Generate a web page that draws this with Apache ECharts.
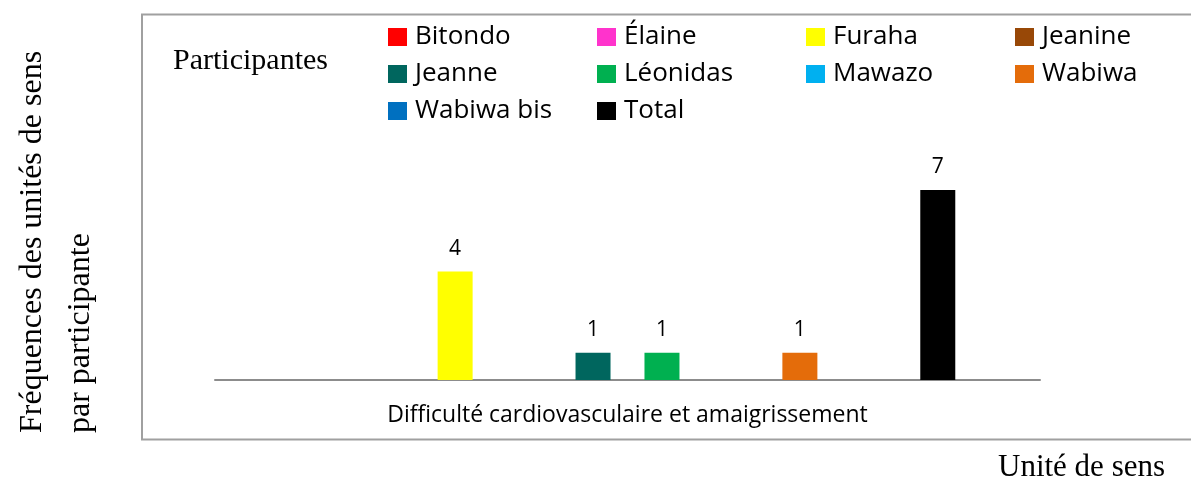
<!DOCTYPE html>
<html>
<head>
<meta charset="utf-8">
<script src="https://cdn.jsdelivr.net/npm/echarts@6/dist/echarts.min.js"></script>
<style>html,body{margin:0;padding:0;background:#fff}#c{width:1191px;height:483px}</style>
</head>
<body>
<div id="c"></div>
<script>
const categories = ['Difficulté cardiovasculaire et amaigrissement'];
const seriesNames = ['Bitondo', 'Élaine', 'Furaha', 'Jeanine', 'Jeanne', 'Léonidas', 'Mawazo', 'Wabiwa', 'Wabiwa bis', 'Total'];
const seriesValues = [0, 0, 4, 0, 1, 1, 0, 1, 0, 7];
const seriesColors = ['#FF0000', '#FF33CC', '#FFFF00', '#984807', '#00665E', '#00B050', '#00B0F0', '#E46C0A', '#0070C0', '#000000'];

const chart = echarts.init(document.getElementById('c'));
const sans = "'Open Sans', 'Noto Sans', sans-serif";
const serif = "'Liberation Serif', 'Times New Roman', serif";

const legendData = seriesNames.map((n, i) => {
  const d = { name: n };
  if (i % 4 === 3) d.textStyle = { width: 110 };
  return d;
});

chart.setOption({
  animation: false,
  backgroundColor: '#fff',
  grid: { left: 215, right: 151, top: 190, bottom: 103, containLabel: false },
  legend: {
    data: legendData,
    left: 388, top: 23, width: 840, padding: 0,
    orient: 'horizontal',
    itemWidth: 19, itemHeight: 18, itemGap: 9,
    icon: 'rect',
    textStyle: { fontFamily: sans, fontSize: 26, color: '#000', width: 173, lineHeight: 28, padding: [0, 0, 0, 3] }
  },
  xAxis: {
    type: 'category', data: categories,
    axisLine: { lineStyle: { color: '#8c8c8c', width: 2 } },
    axisTick: { show: false },
    axisLabel: { fontFamily: sans, fontSize: 23, color: '#000', margin: 24 }
  },
  yAxis: { type: 'value', min: 0, max: 7, show: false, splitLine: { show: false } },
  series: seriesNames.map((n, i) => ({
    name: n, type: 'bar', data: [seriesValues[i]],
    barWidth: 35, barGap: '97%',
    itemStyle: { color: seriesColors[i] },
    label: {
      show: true, position: 'top', distance: 12,
      fontFamily: sans, fontSize: 21, color: '#000',
      formatter: p => (p.value ? String(p.value) : '')
    }
  })),
  graphic: [
    { type: 'rect', shape: { x: 142, y: 14.5, width: 1100, height: 425 }, style: { fill: 'none', stroke: '#a0a0a0', lineWidth: 2 }, silent: true, z: -1 },
    { type: 'text', x: 173, y: 61, style: { text: 'Participantes', font: '30px ' + serif, fill: '#000', textAlign: 'left', textVerticalAlign: 'middle' } },
    { type: 'text', x: 57, y: 433, rotation: Math.PI / 2, style: { text: 'Fréquences des unités de sens\npar participante', font: '32px ' + serif, lineHeight: 48, fill: '#000', textAlign: 'left', textVerticalAlign: 'middle' } },
    { type: 'text', x: 998, y: 468, style: { text: 'Unité de sens', font: '31px ' + serif, fill: '#000', textAlign: 'left', textVerticalAlign: 'middle' } }
  ]
});
</script>
</body>
</html>
